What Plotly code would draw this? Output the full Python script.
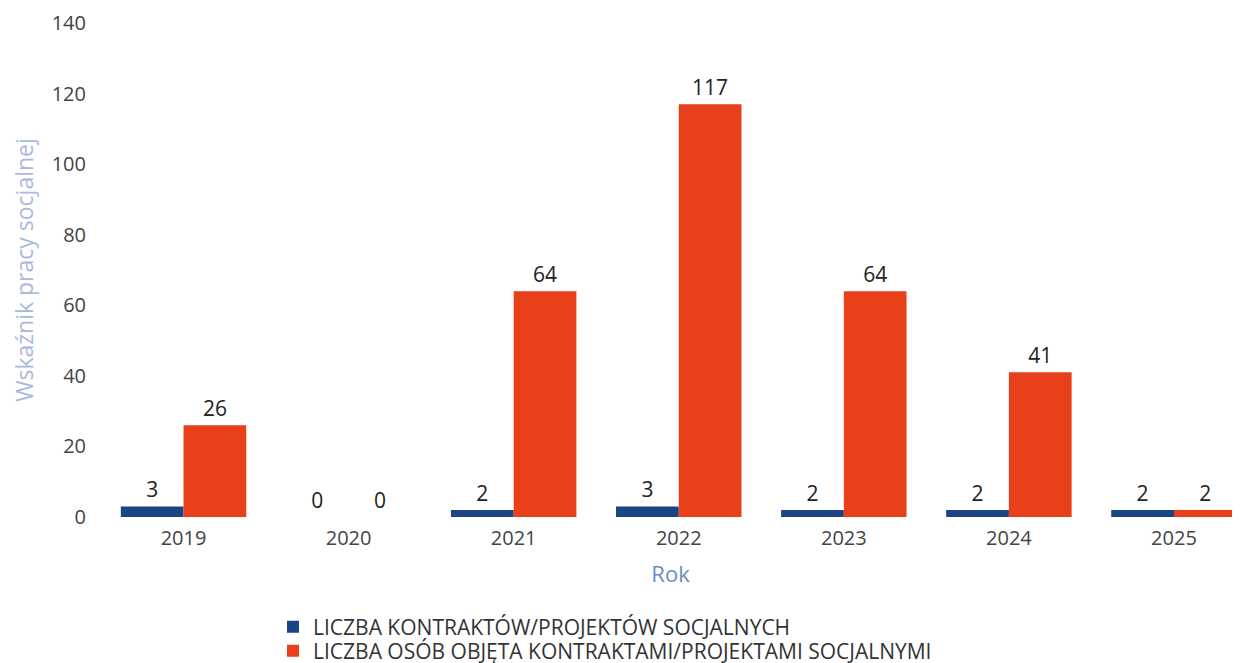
import plotly.graph_objects as go

years = ["2019", "2020", "2021", "2022", "2023", "2024", "2025"]
kontrakty = [3, 0, 2, 3, 2, 2, 2]
osoby = [26, 0, 64, 117, 64, 41, 2]
series_names = ["LICZBA KONTRAKTÓW/PROJEKTÓW SOCJALNYCH",
                "LICZBA OSÓB OBJĘTA KONTRAKTAMI/PROJEKTAMI SOCJALNYMI"]
y_ticks = [0, 20, 40, 60, 80, 100, 120, 140]

fig = go.Figure()
fig.add_trace(go.Bar(x=years, y=kontrakty, name=series_names[0],
                     marker=dict(color="#1b4485", line=dict(width=0)),
                     text=kontrakty, textposition="outside", cliponaxis=False,
                     textfont=dict(size=21, color="#222222", family="Open Sans"),
                     legend="legend"))
fig.add_trace(go.Bar(x=years, y=osoby, name=series_names[1],
                     marker=dict(color="#e7401b", line=dict(width=0)),
                     text=osoby, textposition="outside", cliponaxis=False,
                     textfont=dict(size=21, color="#222222", family="Open Sans"),
                     legend="legend2"))

H = 663
ML, MR, MT, MB = 93, 8, 15, 154
PW, PH = 1240 - ML - MR, H - MT - MB
bottom = H - MB

leg_common = dict(xanchor="left", yanchor="middle",
                  orientation="v", font=dict(size=21, color="#333333", family="Open Sans"),
                  itemwidth=30, bgcolor="rgba(0,0,0,0)", borderwidth=0)

fig.update_layout(
    width=1240, height=H,
    paper_bgcolor="white", plot_bgcolor="white",
    margin=dict(l=ML, r=MR, t=MT, b=MB, autoexpand=False),
    barmode="group", bargap=0.24, bargroupgap=0,
    font=dict(family="Open Sans", color="#444444"),
    showlegend=True,
    legend=dict(x=(265 - ML) / PW, y=(bottom - 619) / PH, **leg_common),
    legend2=dict(x=(265 - ML) / PW, y=(bottom - 643) / PH, **leg_common),
    xaxis=dict(type="category", range=[-0.5, 6.4], automargin=True,
               tickfont=dict(size=20, color="#444444"),
               title=dict(text="Rok", font=dict(size=22, color="#6a8cc4"), standoff=16),
               showgrid=False, showline=False, zeroline=False, ticks="outside",
               ticklen=3, tickcolor="rgba(0,0,0,0)"),
    yaxis=dict(range=[0, 140], tickvals=y_ticks, automargin=True,
               tickfont=dict(size=20, color="#444444"),
               title=dict(text="Wskaźnik pracy socjalnej", font=dict(size=23, color="#a9b9e0"), standoff=16),
               showgrid=False, showline=False, zeroline=False, ticks="outside",
               ticklen=10, tickcolor="rgba(0,0,0,0)"),
)

fig.write_html("out.html")
